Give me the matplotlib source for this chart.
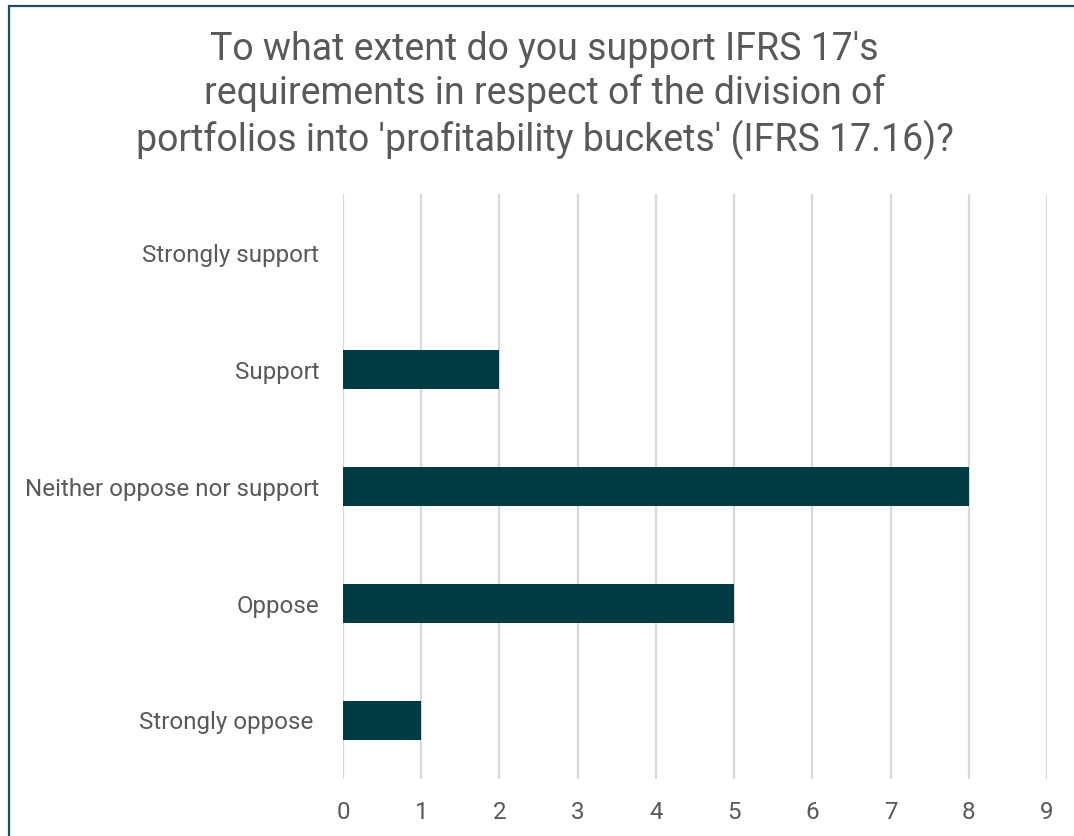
import matplotlib.pyplot as plt
from matplotlib.patches import Rectangle

plt.rcParams['font.family'] = ['Roboto', 'DejaVu Sans']

answers = ["Strongly support", "Support", "Neither oppose nor support",
           "Oppose", "Strongly oppose "]
counts = [0, 2, 8, 5, 1]
x_ticks = [0, 1, 2, 3, 4, 5, 6, 7, 8, 9]

text_color = "#595959"
bar_color = "#003a42"

fig = plt.figure(figsize=(10.74, 8.36), dpi=100)
ax = fig.add_axes([0.3194, 0.0682, 0.6555, 0.6997])

pos = list(range(len(answers)))
ax.barh(pos, counts, height=0.34, color=bar_color, zorder=3)
ax.set_ylim(len(answers) - 0.5, -0.5)
ax.set_xlim(0, 9)
ax.set_yticks(pos)
ax.set_yticklabels(answers)
ax.set_xticks(x_ticks)

ax.grid(axis='x', color="#d9d9d9", linewidth=1.6, zorder=0)
ax.grid(axis='y', visible=False)
for s in ax.spines.values():
    s.set_visible(False)
ax.tick_params(axis='both', length=0, labelsize=17.4, labelcolor=text_color)
ax.tick_params(axis='y', pad=17)
ax.tick_params(axis='x', pad=16)

fig.text(0.507, 0.886,
         "To what extent do you support IFRS 17's\n"
         "requirements in respect of the division of\n"
         "portfolios into 'profitability buckets' (IFRS 17.16)?",
         ha='center', va='center', fontsize=27, color=text_color,
         linespacing=1.22)

# outer frame, running off the right and bottom edges
fig.patches.append(Rectangle((9 / 1074, -0.1), 1.2, 1 - 6 / 836 + 0.1,
                             transform=fig.transFigure, fill=False,
                             edgecolor="#1c4f59", linewidth=1.6))

fig.savefig("out.png", dpi=100)
